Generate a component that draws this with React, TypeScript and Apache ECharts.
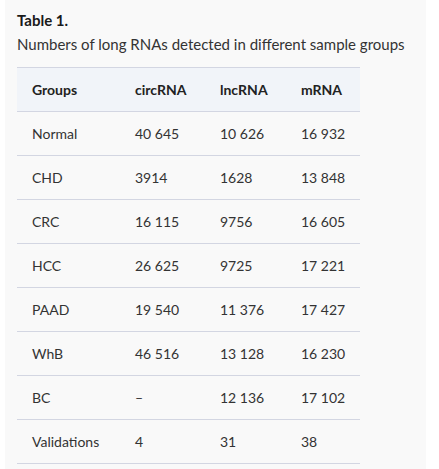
import React, { useEffect, useRef } from "react";
import * as echarts from "echarts";

const titleText = "Table 1.";
const captionText = "Numbers of long RNAs detected in different sample groups";
const headers = ["Groups", "circRNA", "lncRNA", "mRNA"];
const groups = ["Normal", "CHD", "CRC", "HCC", "PAAD", "WhB", "BC", "Validations"];
const circRNA: (number | null)[] = [40645, 3914, 16115, 26625, 19540, 46516, null, 4];
const lncRNA: (number | null)[] = [10626, 1628, 9756, 9725, 11376, 13128, 12136, 31];
const mRNA: (number | null)[] = [16932, 13848, 16605, 17221, 17427, 16230, 17102, 38];

function fmt(v: number | null): string {
  if (v === null) return "–";
  if (v < 10000) return String(v);
  return String(v).replace(/\B(?=(\d{3})+(?!\d))/g, " ");
}

const FONT = "Lato, 'Noto Sans', sans-serif";

export default function App() {
  const ref = useRef<HTMLDivElement>(null);
  useEffect(() => {
    const chart = echarts.init(ref.current!, null, { renderer: "svg" });
    const colX = [32, 135, 220, 301];
    const tableL = 17;
    const tableR = 360;
    const headTop = 67;
    const rowH = 44;
    const els: any[] = [];
    els.push({ type: "rect", shape: { x: 5, y: 0, width: 421, height: 469 }, style: { fill: "#f9f9f9" }, silent: true });
    els.push({ type: "rect", shape: { x: tableL, y: headTop, width: tableR - tableL, height: rowH }, style: { fill: "#f1f4f9" }, silent: true });
    for (let i = 0; i <= groups.length + 1; i++) {
      const y = headTop + i * rowH + 0.5;
      els.push({ type: "line", shape: { x1: tableL, y1: y, x2: tableR, y2: y }, style: { stroke: "#d3d6e2", lineWidth: 1 }, silent: true });
    }
    els.push({ type: "text", x: 17, y: 20, style: { text: titleText, font: `bold 15px ${FONT}`, fill: "#1a1a1a", verticalAlign: "middle" } });
    els.push({ type: "text", x: 17, y: 44, style: { text: captionText, font: `15px ${FONT}`, fill: "#333", verticalAlign: "middle" } });
    headers.forEach((h, j) => {
      els.push({ type: "text", x: colX[j], y: headTop + rowH / 2, style: { text: h, font: `bold 14px ${FONT}`, fill: "#222", verticalAlign: "middle" } });
    });
    groups.forEach((g, i) => {
      const y = headTop + (i + 1) * rowH + rowH / 2;
      const vals = [g, fmt(circRNA[i]), fmt(lncRNA[i]), fmt(mRNA[i])];
      vals.forEach((t, j) => {
        els.push({ type: "text", x: colX[j], y, style: { text: t, font: `14px ${FONT}`, fill: "#333", verticalAlign: "middle" } });
      });
    });
    chart.setOption({ animation: false, graphic: { elements: els } });
    return () => chart.dispose();
  }, []);
  return <div ref={ref} style={{ position: "fixed", left: 0, top: 0, width: 439, height: 469, background: "#fff" }} />;
}
